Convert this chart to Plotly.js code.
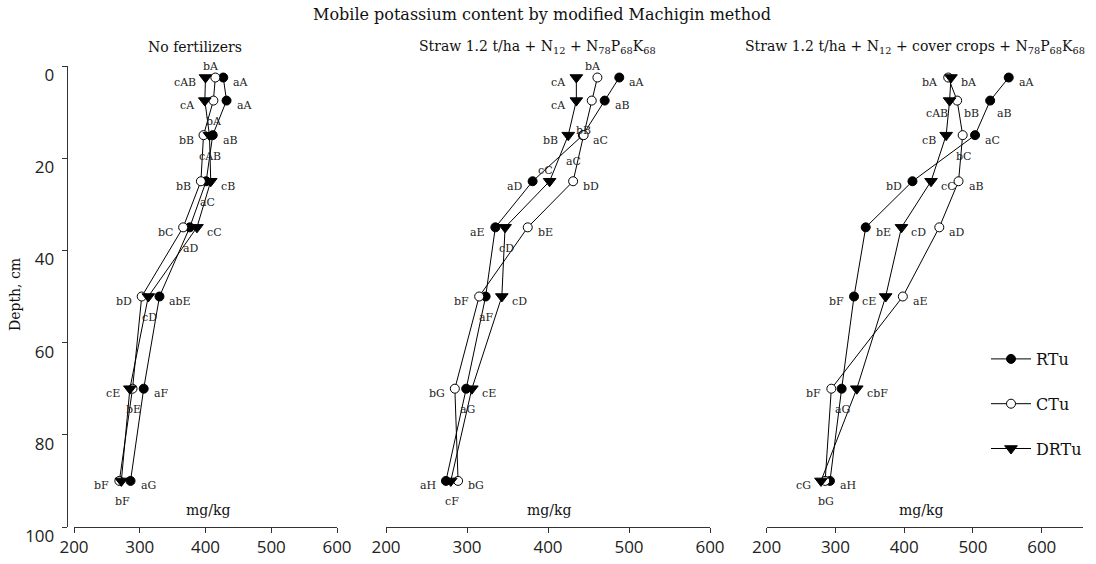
<!DOCTYPE html>
<html><head><meta charset="utf-8">
<script src="https://cdn.plot.ly/plotly-3.0.1.min.js"></script>
<style>html,body{margin:0;padding:0;background:#fff}#chart{width:1096px;height:564px}</style>
</head><body><div id="chart"></div>
<script>
// ---- data ----
const seriesNames = ["RTu", "CTu", "DRTu"];
const depth = [2.5, 7.5, 15, 25, 35, 50, 70, 90];
const panelTitles = ["No fertilizers",
  "Straw 1.2 t/ha + N<sub>12</sub> + N<sub>78</sub>P<sub>68</sub>K<sub>68</sub>",
  "Straw 1.2 t/ha + N<sub>12</sub> + cover crops + N<sub>78</sub>P<sub>68</sub>K<sub>68</sub>"];
const xTicks = [200, 300, 400, 500, 600];
const yTicks = [0, 20, 40, 60, 80, 100];

// Panel 1: No fertilizers
const p1_RTu  = [427, 432, 411, 401, 376, 330, 306, 286];
const p1_CTu  = [415, 412, 397, 393, 366, 303, 289, 269];
const p1_DRTu = [400, 399, 406, 408, 387, 313, 285, 272];
const lab1_RTu  = ["aA","aA","aB","aC","aD","abE","aF","aG"];
const lab1_CTu  = ["bA","bA","bB","bB","bC","bD","bE","bF"];
const lab1_DRTu = ["cAB","cA","cAB","cB","cC","cD","cE","bF"];

// Panel 2: Straw + N12 + N78P68K68
const p2_RTu  = [488, 470, 443, 381, 335, 323, 299, 274];
const p2_CTu  = [461, 454, 444, 431, 375, 315, 285, 289];
const p2_DRTu = [435, 435, 425, 402, 347, 343, 306, 280];
const lab2_RTu  = ["aA","aB","aC","aD","aE","aF","aG","aH"];
const lab2_CTu  = ["bA","bB","aC","bD","bE","bF","bG","bG"];
const lab2_DRTu = ["cA","cA","bB","cC","cD","cD","cE","cF"];

// Panel 3: Straw + N12 + cover crops + N78P68K68
const p3_RTu  = [552, 525, 503, 412, 344, 327, 309, 292];
const p3_CTu  = [464, 477, 485, 479, 451, 398, 294, 285];
const p3_DRTu = [468, 466, 461, 439, 396, 373, 331, 279];
const lab3_RTu  = ["aA","aB","aC","bD","bE","bF","aG","aH"];
const lab3_CTu  = ["bA","bB","bC","aB","aD","aE","bF","bG"];
const lab3_DRTu = ["bA","cAB","cB","cC","cD","cE","cbF","cG"];

// ---- label placement (style) ----
const pos1_RTu  = ["r","r","r","b","b","r","r","r"];
const pos1_CTu  = ["t","b","l","l","l","l","b","l"];
const pos1_DRTu = ["l","l","b","r","r","b","l","b"];
const pos2_RTu  = ["r","r","r","l","l","b","b","l"];
const pos2_CTu  = ["t","bb","bl2","r","r","l","l","r"];
const pos2_DRTu = ["l","l","l","t","b","r","r","b"];
const pos3_RTu  = ["r","br","r","l","r","l","b","r"];
const pos3_CTu  = ["l","br","b","r","r","r","l","b"];
const pos3_DRTu = ["r","bl","l","r","r","l","r","l"];

const OFF = {
  l:  {xa:"right",  dx:-8,  dy:-5},
  r:  {xa:"left",   dx:8,   dy:-5},
  b:  {xa:"center", dx:1,   dy:-21},
  t:  {xa:"center", dx:-4,  dy:11},
  bl: {xa:"center", dx:-13, dy:-13},
  br: {xa:"center", dx:14,  dy:-13},
  bb: {xa:"center", dx:-8,  dy:-30},
  bl2:{xa:"center", dx:-10, dy:-26}
};

const vals = [[p1_RTu,p1_CTu,p1_DRTu],[p2_RTu,p2_CTu,p2_DRTu],[p3_RTu,p3_CTu,p3_DRTu]];
const labs = [[lab1_RTu,lab1_CTu,lab1_DRTu],[lab2_RTu,lab2_CTu,lab2_DRTu],[lab3_RTu,lab3_CTu,lab3_DRTu]];
const poss = [[pos1_RTu,pos1_CTu,pos1_DRTu],[pos2_RTu,pos2_CTu,pos2_DRTu],[pos3_RTu,pos3_CTu,pos3_DRTu]];

const markerStyles = [
  {symbol:"circle", size:9, color:"#000", line:{color:"#000", width:1}},
  {symbol:"circle", size:9, color:"#fff", line:{color:"#000", width:1}},
  {symbol:"triangle-down", size:11, color:"#000", line:{color:"#000", width:1}}
];

const W = 1096, H = 564;
const px = v => v / W, py = v => 1 - v / H;
const serif = "DejaVu Serif";
const sans = "Open Sans";

const traces = [];
const annotations = [];
for (let p = 0; p < 3; p++) {
  const xa = p === 0 ? "x" : "x" + (p + 1);
  const ya = p === 0 ? "y" : "y" + (p + 1);
  for (let s = 0; s < 3; s++) {
    traces.push({
      type: "scatter", mode: "lines+markers",
      x: vals[p][s], y: depth, xaxis: xa, yaxis: ya,
      name: seriesNames[s], legendgroup: seriesNames[s], showlegend: p === 0,
      line: {color: "#000", width: 1},
      marker: markerStyles[s], hoverinfo: "skip", cliponaxis: false
    });
    for (let i = 0; i < depth.length; i++) {
      const o = OFF[poss[p][s][i]];
      annotations.push({
        x: vals[p][s][i], y: depth[i], xref: xa, yref: ya,
        text: labs[p][s][i], showarrow: false,
        xanchor: o.xa, yanchor: "middle", xshift: o.dx, yshift: o.dy,
        font: {family: serif, size: 11, color: "#222"}
      });
    }
  }
}

// titles
annotations.push({xref:"paper", yref:"paper", x:px(542), y:py(15), text:"Mobile potassium content by modified Machigin method",
  showarrow:false, xanchor:"center", yanchor:"middle", font:{family:serif, size:16, color:"#111"}});
const titleX = [195, 537, 915];
for (let p = 0; p < 3; p++) {
  annotations.push({xref:"paper", yref:"paper", x:px(titleX[p]), y:py(47), text:panelTitles[p],
    showarrow:false, xanchor:"center", yanchor:"middle", font:{family:serif, size:14, color:"#111"}});
}
const unitX = [208, 549, 921];
for (let p = 0; p < 3; p++) {
  annotations.push({xref:"paper", yref:"paper", x:px(unitX[p]), y:py(510), text:"mg/kg",
    showarrow:false, xanchor:"center", yanchor:"middle", font:{family:serif, size:14, color:"#111"}});
}
annotations.push({xref:"paper", yref:"paper", x:px(15), y:py(295), text:"Depth, cm", textangle:-90,
  showarrow:false, xanchor:"center", yanchor:"middle", font:{family:serif, size:14, color:"#111"}});

const yDom = [py(527), py(66)];
const xCommon = {
  range: [200, 600], tickvals: xTicks, ticktext: xTicks.map(String),
  showline: true, linecolor: "#333", linewidth: 1, ticks: "outside", ticklen: 5, tickcolor: "#333",
  showgrid: false, zeroline: false, tickfont: {family: sans, size: 17, color: "#222"}, fixedrange: true
};
const yHidden = {range: [100, 0], domain: yDom, visible: false, fixedrange: true};

const layout = {
  width: W, height: H, margin: {l:0, r:0, t:0, b:0},
  paper_bgcolor: "#fff", plot_bgcolor: "rgba(0,0,0,0)",
  showlegend: true,
  legend: {x: px(986), y: py(342), xanchor: "left", yanchor: "top", bgcolor: "rgba(0,0,0,0)",
    font: {family: serif, size: 16, color: "#111"}, tracegroupgap: 21, itemwidth: 40},
  xaxis: Object.assign({}, xCommon, {domain: [px(74), px(337)], anchor: "y"}),
  xaxis2: Object.assign({}, xCommon, {domain: [px(386), px(710)], anchor: "y2"}),
  xaxis3: Object.assign({}, xCommon, {domain: [px(766.7), px(1083)], anchor: "y3", range: [200, 660]}),
  yaxis: {range: [100, 0], domain: yDom, anchor: "free", position: px(66.7), tickvals: yTicks,
    showline: true, linecolor: "#333", linewidth: 1, ticks: "outside", ticklen: 5, tickcolor: "#333",
    showgrid: false, zeroline: false, tickfont: {family: sans, size: 17, color: "#222"},
    ticklabelshift: -9, ticklabelstandoff: 4, fixedrange: true},
  yaxis2: Object.assign({}, yHidden, {anchor: "x2"}),
  yaxis3: Object.assign({}, yHidden, {anchor: "x3"}),
  annotations: annotations
};

Plotly.newPlot("chart", traces, layout, {displayModeBar: false, staticPlot: true});
</script></body></html>
